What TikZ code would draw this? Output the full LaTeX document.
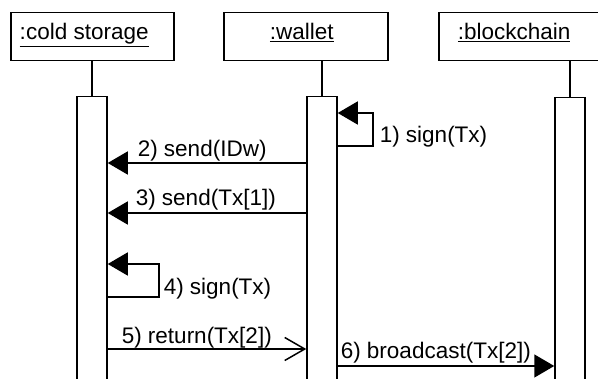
\documentclass[tikz,border=0pt]{standalone}
\usepackage{fontspec}
\setmainfont{Liberation Sans}
\usetikzlibrary{arrows.meta}
\begin{document}
\begin{tikzpicture}[x=1pt,y=-1pt,line width=1.5pt,
  obj/.style={draw,rectangle,inner sep=0pt,anchor=north west},
  bar/.style={draw,fill=white,rectangle,inner sep=0pt,minimum width=30pt,anchor=north},
  lbl/.style={anchor=base west,inner sep=0pt,font=\fontsize{22.5pt}{27pt}\selectfont},
  full/.style={-{Triangle[length=20pt,width=23pt]}},
  open/.style={-{Straight Barb[length=20pt,width=23pt,line width=1.5pt]}}]
\clip (0,0) rectangle (598,379);
\fill[white] (0,0) rectangle (598,379);
% objects
\node[obj,minimum width=163pt,minimum height=48pt] (cs) at (10,12) {};
\node[obj,minimum width=164pt,minimum height=48pt] (wa) at (223,12) {};
\node[obj,minimum width=264pt,minimum height=48pt] (bc) at (438,12) {};
\node[lbl] (cst) at (19,40) {\underline{:cold storage}};
\node[lbl] (wat) at (269,40) {\underline{:wallet}};
\node[lbl] (bct) at (457,40) {\underline{:blockchain}};
% activation bars
\node[bar,minimum height=290pt] (csb) at (92,96) {};
\node[bar,minimum height=290pt] (wab) at (322,96) {};
\node[bar,minimum height=290pt] (bcb) at (570,97) {};
% lifelines
\draw (cs.south -| csb.north) -- (csb.north);
\draw (wa.south -| wab.north) -- (wab.north);
\draw (bc.south -| bcb.north) -- (bcb.north);
% message coordinates
\coordinate (m1a) at (373,146); \coordinate (m1b) at (373,113);
\coordinate (m2) at (0,163);
\coordinate (m3) at (0,213);
\coordinate (m4a) at (159,297); \coordinate (m4b) at (159,264);
\coordinate (m5) at (0,349);
\coordinate (m6) at (0,366);
% 1) self call on wallet
\draw[full] (wab.east |- m1a) -- (m1a) -- (m1b) -- (wab.east |- m1b);
\node[lbl] (l1) at (379,143) {1) sign(Tx)};
% 2)
\draw[full] (wab.west |- m2) -- (csb.east |- m2);
\node[lbl] (l2) at (137,157) {2) send(IDw)};
% 3)
\draw[full] (wab.west |- m3) -- (csb.east |- m3);
\node[lbl] (l3) at (135,206) {3) send(Tx[1])};
% 4) self call on cold storage
\draw[full] (csb.east |- m4a) -- (m4a) -- (m4b) -- (csb.east |- m4b);
\node[lbl] (l4) at (163,295) {4) sign(Tx)};
% 5)
\draw[open] (csb.east |- m5) -- (wab.west |- m5);
\node[lbl] (l5) at (121,344) {5) return(Tx[2])};
% 6)
\draw[full] (wab.east |- m6) -- (bcb.west |- m6);
\node[lbl] (l6) at (340,359) {6) broadcast(Tx[2])};
\end{tikzpicture}
\end{document}
